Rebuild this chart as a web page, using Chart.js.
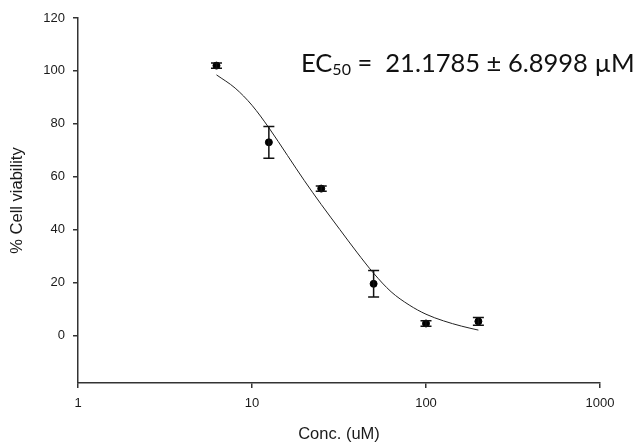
<!DOCTYPE html>
<html>
<head>
<meta charset="utf-8">
<script src="https://cdn.jsdelivr.net/npm/chart.js@4.4.1/dist/chart.umd.min.js"></script>
<style>
  body { margin: 0; background: #fff; }
  canvas { display: block; }
</style>
</head>
<body>
<canvas id="myChart" width="639" height="444"></canvas>
<script>
// measured points (mean +/- error)
const concentrations = [6.25, 12.5, 25, 50, 100, 200];
const viability = [102, 73, 55.5, 19.5, 4.5, 5.3];
const viabilityErr = [1, 6, 1, 5, 1, 1.5];

// fitted curve
const fitConc = [6.25, 8, 10, 12.5, 16, 20, 25, 32, 40, 50, 63, 80, 100, 126, 160, 200];
const fitViability = [98.5, 93.5, 87, 78.5, 68, 58.5, 49.5, 40, 31.5, 23.5, 16.5, 11.5, 8, 5.5, 3.5, 2];

const xTickValues = [1, 10, 100, 1000];
const yTickValues = [0, 20, 40, 60, 80, 100, 120];

const ec50Label = ['EC', '50', ' =  21.1785 \u00b1 6.8998 \u00b5M'];

const axisColor = '#333';
const tickFont = { family: 'Liberation Sans, Arial', size: 13 };
const titleFont = { family: 'Liberation Sans, Arial', size: 16.5, lineHeight: 1 };

// vertical error bars with caps
const errorBars = {
  id: 'errorBars',
  afterDatasetsDraw(chart) {
    const ctx = chart.ctx;
    const xs = chart.scales.x, ys = chart.scales.y;
    ctx.save();
    ctx.strokeStyle = '#111';
    ctx.lineWidth = 1.5;
    concentrations.forEach((c, i) => {
      const px = xs.getPixelForValue(c);
      const top = ys.getPixelForValue(viability[i] + viabilityErr[i]);
      const bot = ys.getPixelForValue(viability[i] - viabilityErr[i]);
      ctx.beginPath();
      ctx.moveTo(px, top); ctx.lineTo(px, bot);
      ctx.moveTo(px - 5.5, top); ctx.lineTo(px + 5.5, top);
      ctx.moveTo(px - 5.5, bot); ctx.lineTo(px + 5.5, bot);
      ctx.stroke();
    });
    ctx.restore();
  }
};

// EC50 annotation
const ec50Text = {
  id: 'ec50Text',
  afterDraw(chart) {
    const ctx = chart.ctx;
    let x = 301, y = 72;
    ctx.save();
    ctx.fillStyle = '#111';
    ctx.textBaseline = 'alphabetic';
    ctx.font = '25.5px Lato';
    ctx.fillText(ec50Label[0], x, y);
    x += ctx.measureText(ec50Label[0]).width;
    ctx.font = '16px Lato';
    ctx.fillText(ec50Label[1], x, y + 3);
    x += ctx.measureText(ec50Label[1]).width;
    ctx.font = '25.5px Lato';
    ctx.fillText(ec50Label[2], x, y);
    ctx.restore();
  }
};

let myChart = document.getElementById('myChart').getContext('2d');

let doseChart = new Chart(myChart, {
  type: 'scatter',
  data: {
    datasets: [
      {
        label: 'Viability',
        data: concentrations.map((c, i) => ({ x: c, y: viability[i] })),
        backgroundColor: '#000',
        borderColor: '#000',
        pointRadius: 3.5,
        pointHoverRadius: 3.5
      },
      {
        label: 'Fit',
        data: fitConc.map((c, i) => ({ x: c, y: fitViability[i] })),
        showLine: true,
        borderColor: '#222',
        borderWidth: 1,
        pointRadius: 0,
        cubicInterpolationMode: 'monotone'
      }
    ]
  },
  options: {
    responsive: false,
    animation: false,
    layout: { padding: { top: 18, right: 39, left: 0, bottom: 0 } },
    plugins: { legend: { display: false }, tooltip: { enabled: false } },
    scales: {
      x: {
        type: 'logarithmic',
        min: 1,
        max: 1000,
        afterBuildTicks: s => { s.ticks = xTickValues.map(v => ({ value: v })); },
        afterFit: s => { s.height = 61; },
        ticks: {
          callback: v => String(v),
          color: '#1a1a1a',
          font: tickFont,
          padding: 8,
          maxRotation: 0,
          autoSkip: false
        },
        grid: { drawOnChartArea: false, drawTicks: true, tickLength: 5, color: axisColor, lineWidth: 1.5 },
        border: { display: true, color: axisColor, width: 1.5 },
        title: {
          display: true,
          text: 'Conc. (uM)',
          color: '#1a1a1a',
          font: titleFont,
          padding: { top: 0, bottom: 1 }
        }
      },
      y: {
        min: -18,
        max: 120,
        afterBuildTicks: s => { s.ticks = yTickValues.map(v => ({ value: v })); },
        afterFit: s => { s.width = 78; },
        ticks: {
          color: '#1a1a1a',
          font: tickFont,
          padding: 8
        },
        grid: { drawOnChartArea: false, drawTicks: true, tickLength: 5, color: axisColor, lineWidth: 1.5 },
        border: { display: true, color: axisColor, width: 1.5 },
        title: {
          display: true,
          text: '% Cell viability',
          color: '#1a1a1a',
          font: titleFont,
          padding: { top: 9, bottom: 0 }
        }
      }
    }
  },
  plugins: [errorBars, ec50Text]
});
</script>
</body>
</html>
